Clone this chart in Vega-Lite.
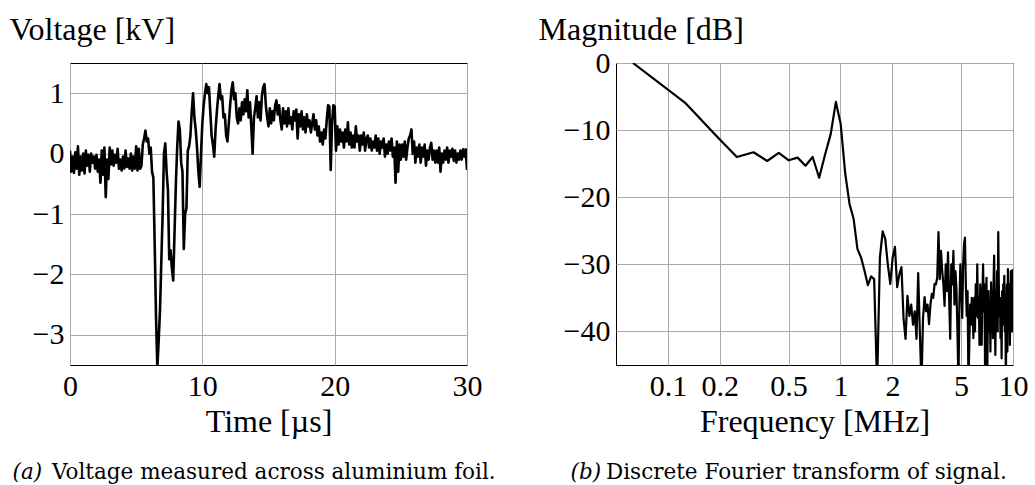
{
 "$schema": "https://vega.github.io/schema/vega-lite/v6.json",
 "background": "white",
 "padding": {"left": 8, "top": 12, "right": 0, "bottom": 0},
 "spacing": 40,
 "config": {
  "font": "Liberation Serif",
  "view": {"stroke": "black", "strokeWidth": 1},
  "axis": {"grid": true, "gridColor": "#aaaaaa", "gridWidth": 1, "domain": false, "ticks": false, "labelFont": "Liberation Serif", "labelFontSize": 30, "labelColor": "black", "titleFont": "Liberation Serif", "titleFontSize": 32, "titleFontWeight": "normal", "titleColor": "black", "labelPadding": 6, "labelFlush": false},
  "title": {"font": "DejaVu Serif", "fontSize": 21.5, "fontWeight": "normal", "orient": "bottom", "color": "black"}
 },
 "hconcat": [
  {
   "title": {"text": "(a)", "fontStyle": "italic", "anchor": "start", "frame": "bounds", "dx": 4, "offset": -22},
   "vconcat": [
  {
   "width": 397, "height": 302,
   "title": {"text": "Voltage measured across aluminium foil.", "anchor": "start", "frame": "group", "dx": -18, "offset": 25},
   "data": {"values": [
{"t":0.0,"v":0.05},{"t":0.1,"v":-0.3},{"t":0.2,"v":-0.05},{"t":0.3,"v":-0.32},{"t":0.4,"v":0.02},{"t":0.5,"v":-0.25},{"t":0.6,"v":0.12},{"t":0.7,"v":-0.35},{"t":0.8,"v":-0.05},{"t":0.9,"v":-0.28},
{"t":1.0,"v":0.0},{"t":1.1,"v":-0.33},{"t":1.2,"v":0.05},{"t":1.3,"v":-0.2},{"t":1.4,"v":-0.02},{"t":1.5,"v":-0.3},{"t":1.6,"v":0.0},{"t":1.7,"v":-0.15},{"t":1.8,"v":-0.05},{"t":1.9,"v":-0.25},
{"t":2.0,"v":-0.02},{"t":2.1,"v":-0.3},{"t":2.2,"v":-0.1},{"t":2.3,"v":-0.48},{"t":2.4,"v":0.05},{"t":2.5,"v":-0.35},{"t":2.6,"v":0.1},{"t":2.7,"v":-0.72},{"t":2.8,"v":-0.1},{"t":2.9,"v":-0.42},
{"t":3.0,"v":0.1},{"t":3.1,"v":-0.18},{"t":3.2,"v":0.05},{"t":3.3,"v":-0.2},{"t":3.4,"v":-0.02},{"t":3.5,"v":-0.15},{"t":3.6,"v":0.08},{"t":3.7,"v":-0.25},{"t":3.8,"v":-0.1},{"t":3.9,"v":-0.28},
{"t":4.0,"v":-0.05},{"t":4.1,"v":-0.25},{"t":4.2,"v":0.05},{"t":4.3,"v":-0.22},{"t":4.4,"v":-0.08},{"t":4.5,"v":-0.25},{"t":4.6,"v":0.0},{"t":4.7,"v":-0.28},{"t":4.8,"v":-0.05},{"t":4.9,"v":-0.25},
{"t":5.0,"v":0.12},{"t":5.1,"v":-0.28},{"t":5.2,"v":0.08},{"t":5.3,"v":-0.25},{"t":5.4,"v":-0.2},{"t":5.5,"v":0.15},{"t":5.6,"v":0.25},{"t":5.7,"v":0.38},{"t":5.8,"v":0.2},{"t":5.9,"v":0.25},
{"t":6.0,"v":0.0},{"t":6.1,"v":0.1},{"t":6.2,"v":-0.3},{"t":6.3,"v":-0.4},{"t":6.4,"v":-1.5},{"t":6.5,"v":-2.7},{"t":6.6,"v":-3.55},{"t":6.7,"v":-3.1},{"t":6.8,"v":-2.6},{"t":6.9,"v":-1.8},
{"t":7.0,"v":-1.0},{"t":7.1,"v":0.0},{"t":7.2,"v":0.17},{"t":7.3,"v":-0.3},{"t":7.4,"v":-0.6},{"t":7.5,"v":-1.75},{"t":7.6,"v":-1.6},{"t":7.7,"v":-1.9},{"t":7.8,"v":-2.1},{"t":7.9,"v":-1.3},
{"t":8.0,"v":-0.5},{"t":8.1,"v":0.1},{"t":8.2,"v":0.53},{"t":8.3,"v":0.4},{"t":8.4,"v":-0.15},{"t":8.5,"v":-0.3},{"t":8.6,"v":-1.58},{"t":8.7,"v":-1.0},{"t":8.8,"v":-0.9},{"t":8.9,"v":0.05},
{"t":9.0,"v":0.12},{"t":9.1,"v":0.3},{"t":9.2,"v":0.7},{"t":9.3,"v":1.0},{"t":9.4,"v":0.6},{"t":9.5,"v":0.4},{"t":9.6,"v":0.1},{"t":9.7,"v":-0.3},{"t":9.8,"v":-0.55},{"t":9.9,"v":0.0},
{"t":10.0,"v":0.5},{"t":10.1,"v":0.8},{"t":10.2,"v":1.0},{"t":10.3,"v":1.15},{"t":10.4,"v":1.0},{"t":10.5,"v":1.1},{"t":10.6,"v":0.7},{"t":10.7,"v":0.3},{"t":10.8,"v":0.15},{"t":10.9,"v":-0.05},
{"t":11.0,"v":0.4},{"t":11.1,"v":0.7},{"t":11.2,"v":0.95},{"t":11.3,"v":1.15},{"t":11.4,"v":0.9},{"t":11.5,"v":0.95},{"t":11.6,"v":0.6},{"t":11.7,"v":0.65},{"t":11.8,"v":0.3},{"t":11.9,"v":0.2},
{"t":12.0,"v":0.5},{"t":12.1,"v":0.8},{"t":12.2,"v":1.05},{"t":12.3,"v":1.18},{"t":12.4,"v":0.9},{"t":12.5,"v":1.0},{"t":12.6,"v":0.6},{"t":12.7,"v":0.5},{"t":12.8,"v":0.75},{"t":12.9,"v":0.55},
{"t":13.0,"v":0.85},{"t":13.1,"v":0.65},{"t":13.2,"v":0.9},{"t":13.3,"v":0.7},{"t":13.4,"v":1.05},{"t":13.5,"v":0.6},{"t":13.6,"v":0.85},{"t":13.7,"v":0.45},{"t":13.8,"v":0.0},{"t":13.9,"v":0.6},
{"t":14.0,"v":0.75},{"t":14.1,"v":0.95},{"t":14.2,"v":0.6},{"t":14.3,"v":0.85},{"t":14.4,"v":0.55},{"t":14.5,"v":0.95},{"t":14.6,"v":1.1},{"t":14.7,"v":1.15},{"t":14.8,"v":0.8},{"t":14.9,"v":0.6},
{"t":15.0,"v":0.45},{"t":15.1,"v":0.75},{"t":15.2,"v":0.5},{"t":15.3,"v":0.7},{"t":15.4,"v":0.55},{"t":15.5,"v":0.8},{"t":15.6,"v":0.88},{"t":15.7,"v":0.65},{"t":15.8,"v":0.8},{"t":15.9,"v":0.55},
{"t":16.0,"v":0.4},{"t":16.1,"v":0.75},{"t":16.2,"v":0.5},{"t":16.3,"v":0.7},{"t":16.4,"v":0.45},{"t":16.5,"v":0.75},{"t":16.6,"v":0.5},{"t":16.7,"v":0.6},{"t":16.8,"v":0.4},{"t":16.9,"v":0.7},
{"t":17.0,"v":0.55},{"t":17.1,"v":0.73},{"t":17.2,"v":0.25},{"t":17.3,"v":0.65},{"t":17.4,"v":0.45},{"t":17.5,"v":0.7},{"t":17.6,"v":0.4},{"t":17.7,"v":0.6},{"t":17.8,"v":0.35},{"t":17.9,"v":0.65},
{"t":18.0,"v":0.45},{"t":18.1,"v":0.55},{"t":18.2,"v":0.35},{"t":18.3,"v":0.5},{"t":18.4,"v":0.65},{"t":18.5,"v":0.4},{"t":18.6,"v":0.55},{"t":18.7,"v":0.3},{"t":18.8,"v":0.45},{"t":18.9,"v":0.2},
{"t":19.0,"v":0.35},{"t":19.1,"v":0.15},{"t":19.2,"v":0.4},{"t":19.3,"v":0.25},{"t":19.4,"v":0.55},{"t":19.5,"v":0.8},{"t":19.6,"v":0.78},{"t":19.7,"v":-0.27},{"t":19.8,"v":0.5},{"t":19.9,"v":0.8},
{"t":20.0,"v":0.78},{"t":20.1,"v":0.05},{"t":20.2,"v":0.45},{"t":20.3,"v":0.15},{"t":20.4,"v":0.4},{"t":20.5,"v":0.2},{"t":20.6,"v":0.35},{"t":20.7,"v":0.1},{"t":20.8,"v":0.4},{"t":20.9,"v":0.2},
{"t":21.0,"v":0.52},{"t":21.1,"v":0.15},{"t":21.2,"v":0.35},{"t":21.3,"v":0.1},{"t":21.4,"v":0.3},{"t":21.5,"v":0.1},{"t":21.6,"v":0.45},{"t":21.7,"v":0.2},{"t":21.8,"v":0.3},{"t":21.9,"v":0.05},
{"t":22.0,"v":0.3},{"t":22.1,"v":0.15},{"t":22.2,"v":0.35},{"t":22.3,"v":0.05},{"t":22.4,"v":0.25},{"t":22.5,"v":0.3},{"t":22.6,"v":0.1},{"t":22.7,"v":0.25},{"t":22.8,"v":0.05},{"t":22.9,"v":0.2},
{"t":23.0,"v":0.1},{"t":23.1,"v":0.3},{"t":23.2,"v":0.05},{"t":23.3,"v":0.25},{"t":23.4,"v":0.0},{"t":23.5,"v":0.2},{"t":23.6,"v":0.1},{"t":23.7,"v":0.25},{"t":23.8,"v":-0.05},{"t":23.9,"v":0.15},
{"t":24.0,"v":0.0},{"t":24.1,"v":0.2},{"t":24.2,"v":0.05},{"t":24.3,"v":0.25},{"t":24.4,"v":-0.05},{"t":24.5,"v":0.1},{"t":24.6,"v":-0.48},{"t":24.7,"v":0.2},{"t":24.8,"v":-0.3},{"t":24.9,"v":0.15},
{"t":25.0,"v":-0.1},{"t":25.1,"v":0.15},{"t":25.2,"v":-0.05},{"t":25.3,"v":0.2},{"t":25.4,"v":-0.1},{"t":25.5,"v":0.1},{"t":25.6,"v":0.25},{"t":25.7,"v":0.3},{"t":25.8,"v":0.4},{"t":25.9,"v":0.0},
{"t":26.0,"v":0.2},{"t":26.1,"v":-0.15},{"t":26.2,"v":0.1},{"t":26.3,"v":-0.05},{"t":26.4,"v":0.15},{"t":26.5,"v":-0.15},{"t":26.6,"v":0.1},{"t":26.7,"v":-0.05},{"t":26.8,"v":0.15},{"t":26.9,"v":-0.2},
{"t":27.0,"v":0.05},{"t":27.1,"v":-0.1},{"t":27.2,"v":0.1},{"t":27.3,"v":0.18},{"t":27.4,"v":-0.1},{"t":27.5,"v":0.05},{"t":27.6,"v":-0.15},{"t":27.7,"v":0.05},{"t":27.8,"v":-0.15},{"t":27.9,"v":0.1},
{"t":28.0,"v":-0.3},{"t":28.1,"v":0.0},{"t":28.2,"v":-0.15},{"t":28.3,"v":0.05},{"t":28.4,"v":-0.1},{"t":28.5,"v":0.1},{"t":28.6,"v":-0.15},{"t":28.7,"v":0.05},{"t":28.8,"v":-0.05},{"t":28.9,"v":0.08},
{"t":29.0,"v":-0.12},{"t":29.1,"v":0.05},{"t":29.2,"v":-0.15},{"t":29.3,"v":0.0},{"t":29.4,"v":-0.1},{"t":29.5,"v":0.05},{"t":29.6,"v":-0.1},{"t":29.7,"v":0.07},{"t":29.8,"v":-0.05},{"t":29.9,"v":0.07},
{"t":30.0,"v":-0.27}
   ]},
   "mark": {"type": "line", "color": "black", "strokeWidth": 2.6, "clip": true, "strokeJoin": "round"},
   "encoding": {
    "x": {"field": "t", "type": "quantitative", "scale": {"domain": [0, 30], "nice": false}, "axis": {"values": [0, 10, 20, 30], "title": "Time [µs]", "titlePadding": 5}},
    "y": {"field": "v", "type": "quantitative", "scale": {"domain": [-3.5, 1.5], "nice": false, "zero": false}, "axis": {"values": [-3, -2, -1, 0, 1], "title": "Voltage [kV]", "titleAngle": 0, "titleX": -61, "titleY": -24, "titleAlign": "left", "titleBaseline": "alphabetic"}}
   }
  }
   ]
  },
  {
   "title": {"text": "(b)", "fontStyle": "italic", "anchor": "start", "frame": "bounds", "dx": 33, "offset": -22},
   "vconcat": [
  {
   "width": 397, "height": 302,
   "title": {"text": "Discrete Fourier transform of signal.", "anchor": "start", "frame": "group", "dx": -10, "offset": 25},
   "data": {"values": [
{"f":0.0627,"db":0},{"f":0.1254,"db":-5.9},{"f":0.1881,"db":-10.7},{"f":0.2508,"db":-14.0},{"f":0.3135,"db":-13.3},{"f":0.3762,"db":-14.6},{"f":0.4389,"db":-13.4},{"f":0.5016,"db":-14.5},{"f":0.5643,"db":-14.1},{"f":0.627,"db":-15.3},
{"f":0.6897,"db":-14.0},{"f":0.7524,"db":-17.1},{"f":0.8151,"db":-13.6},{"f":0.8778,"db":-10.6},{"f":0.9405,"db":-5.8},{"f":1.0032,"db":-9.1},{"f":1.0659,"db":-16.5},{"f":1.1286,"db":-21.0},{"f":1.1913,"db":-23.2},{"f":1.254,"db":-27.7},
{"f":1.3167,"db":-29.0},{"f":1.3794,"db":-31.0},{"f":1.4421,"db":-33.1},{"f":1.5048,"db":-31.8},{"f":1.5675,"db":-32.2},{"f":1.6302,"db":-48},{"f":1.6929,"db":-29},{"f":1.7556,"db":-25.1},{"f":1.8183,"db":-26.2},{"f":1.881,"db":-30},
{"f":1.9437,"db":-32.9},{"f":2.0064,"db":-29},{"f":2.0691,"db":-27.4},{"f":2.1318,"db":-33.4},{"f":2.1945,"db":-31.5},{"f":2.2572,"db":-30.4},{"f":2.3199,"db":-38},{"f":2.3826,"db":-41.1},{"f":2.4453,"db":-34.7},{"f":2.508,"db":-37.7},
{"f":2.5707,"db":-36},{"f":2.6334,"db":-39},{"f":2.6961,"db":-37},{"f":2.7588,"db":-41.1},{"f":2.8215,"db":-31.3},{"f":2.8842,"db":-40},{"f":2.9469,"db":-48},{"f":3.0096,"db":-38},{"f":3.0723,"db":-34.9},{"f":3.135,"db":-37},
{"f":3.1977,"db":-36},{"f":3.2604,"db":-38.9},{"f":3.3231,"db":-36},{"f":3.3858,"db":-34.4},{"f":3.4485,"db":-35},{"f":3.5112,"db":-32.9},{"f":3.5739,"db":-33},{"f":3.6366,"db":-32},{"f":3.6993,"db":-25.2},{"f":3.762,"db":-32.2},
{"f":3.8247,"db":-28},{"f":3.8874,"db":-31},{"f":3.9501,"db":-33},{"f":4.0128,"db":-36.2},{"f":4.0755,"db":-30},{"f":4.1382,"db":-34},{"f":4.2009,"db":-28.2},{"f":4.2636,"db":-35},{"f":4.3263,"db":-41.1},{"f":4.389,"db":-30},
{"f":4.4517,"db":-33},{"f":4.5144,"db":-28},{"f":4.5771,"db":-36},{"f":4.6398,"db":-31},{"f":4.7025,"db":-33.7},{"f":4.7652,"db":-40},{"f":4.8279,"db":-48},{"f":4.8906,"db":-36},{"f":4.9533,"db":-30},{"f":5.016,"db":-33.2},
{"f":5.0787,"db":-38},{"f":5.1414,"db":-30},{"f":5.2041,"db":-27},{"f":5.2668,"db":-26},{"f":5.3295,"db":-33},{"f":5.3922,"db":-37.7},{"f":5.4549,"db":-34},{"f":5.5176,"db":-48},{"f":5.5803,"db":-42},{"f":5.643,"db":-36},
{"f":5.7057,"db":-39},{"f":5.7684,"db":-35},{"f":5.8311,"db":-36},{"f":5.8938,"db":-41},{"f":5.9565,"db":-35},{"f":6.0192,"db":-40},{"f":6.0819,"db":-33},{"f":6.1446,"db":-37.7},{"f":6.2073,"db":-30},{"f":6.27,"db":-38},
{"f":6.3327,"db":-35},{"f":6.3954,"db":-42},{"f":6.4581,"db":-33},{"f":6.5208,"db":-39},{"f":6.5835,"db":-42},{"f":6.6462,"db":-35},{"f":6.7089,"db":-30},{"f":6.7716,"db":-37},{"f":6.8343,"db":-33},{"f":6.897,"db":-48},
{"f":6.9597,"db":-36},{"f":7.0224,"db":-32},{"f":7.0851,"db":-48},{"f":7.1478,"db":-38},{"f":7.2105,"db":-34},{"f":7.2732,"db":-40},{"f":7.3359,"db":-36},{"f":7.3986,"db":-43},{"f":7.4613,"db":-32.7},{"f":7.524,"db":-38},
{"f":7.5867,"db":-35},{"f":7.6494,"db":-41},{"f":7.7121,"db":-33},{"f":7.7748,"db":-28.7},{"f":7.8375,"db":-36},{"f":7.9002,"db":-43.5},{"f":7.9629,"db":-34},{"f":8.0256,"db":-38},{"f":8.0883,"db":-31},{"f":8.151,"db":-40},
{"f":8.2137,"db":-25.2},{"f":8.2764,"db":-33},{"f":8.3391,"db":-37.7},{"f":8.4018,"db":-35},{"f":8.4645,"db":-41},{"f":8.5272,"db":-36},{"f":8.5899,"db":-44},{"f":8.6526,"db":-34},{"f":8.7153,"db":-39},{"f":8.778,"db":-33},
{"f":8.8407,"db":-36},{"f":8.9034,"db":-31.7},{"f":8.9661,"db":-40},{"f":9.0288,"db":-35},{"f":9.0915,"db":-48},{"f":9.1542,"db":-37},{"f":9.2169,"db":-33},{"f":9.2796,"db":-43},{"f":9.3423,"db":-30.7},{"f":9.405,"db":-36},
{"f":9.4677,"db":-39},{"f":9.5304,"db":-33},{"f":9.5931,"db":-42},{"f":9.6558,"db":-37},{"f":9.7185,"db":-31},{"f":9.7812,"db":-39},{"f":9.8439,"db":-35},{"f":9.9066,"db":-40},{"f":9.9693,"db":-30.7}
   ]},
   "mark": {"type": "line", "color": "black", "strokeWidth": 2.2, "clip": true, "strokeJoin": "round"},
   "encoding": {
    "x": {"field": "f", "type": "quantitative", "scale": {"type": "log", "domain": [0.05, 10], "nice": false}, "axis": {"values": [0.1, 0.2, 0.5, 1, 2, 5, 10], "format": "~g", "title": "Frequency [MHz]", "titlePadding": 5}},
    "y": {"field": "db", "type": "quantitative", "scale": {"domain": [-45, 0], "nice": false, "zero": false}, "axis": {"values": [-40, -30, -20, -10, 0], "title": "Magnitude [dB]", "titleAngle": 0, "titleX": -78, "titleY": -24, "titleAlign": "left", "titleBaseline": "alphabetic"}}
   }
  }
   ]
  }
 ]
}
